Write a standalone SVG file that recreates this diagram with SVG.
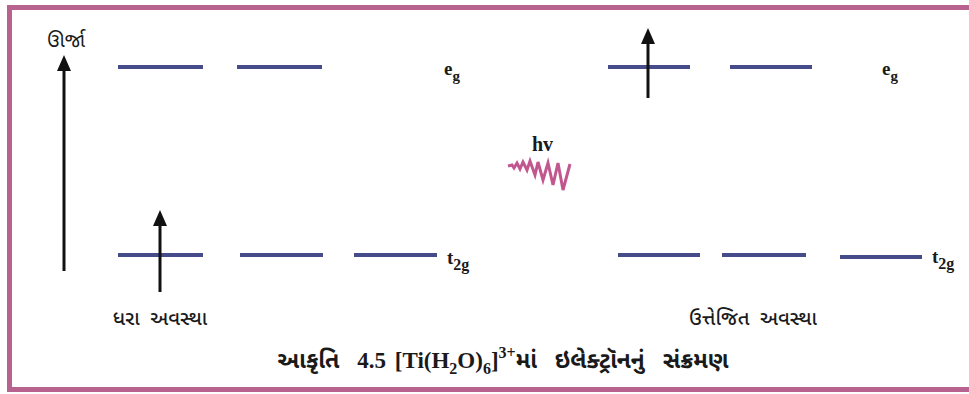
<svg xmlns="http://www.w3.org/2000/svg" width="969" height="394" viewBox="0 0 969 394">
<style>
.lvl{stroke:#464b8a;stroke-width:4;stroke-linecap:butt}
.arr{stroke:#111;stroke-width:3;fill:none}
.guj{font-family:"Noto Sans Gujarati","Noto Serif Gujarati","Noto Sans",sans-serif;fill:#1a1a1a;white-space:pre}
.sym{font-family:"Liberation Serif",serif;font-weight:bold;fill:#1a1a1a}
</style>
<defs>
<marker id="ah" markerWidth="16" markerHeight="14" refX="2" refY="7" orient="auto" markerUnits="userSpaceOnUse">
<path d="M0,0 L16,7 L0,14 Z" fill="#111"/>
</marker>
</defs>
<rect width="969" height="394" fill="#fff"/>
<g id="frame" fill="#b8638f">
<rect x="7" y="5" width="962" height="5"/>
<rect x="7" y="5" width="5" height="387"/>
<rect x="7" y="387" width="962" height="5"/>
</g>
<g id="energy-axis">
<line class="arr" x1="64" y1="271" x2="64" y2="69" marker-end="url(#ah)"/>
<text class="guj" x="66" y="47" font-size="20" text-anchor="middle">ઊર્જા</text>
</g>
<g id="ground-state">
<line class="lvl" x1="118" y1="67" x2="203" y2="67"/>
<line class="lvl" x1="237" y1="67" x2="322" y2="67"/>
<text class="sym" x="444" y="75" font-size="19">e<tspan font-size="15" dy="6">g</tspan></text>
<line class="lvl" x1="118" y1="255" x2="203" y2="255"/>
<line class="lvl" x1="240" y1="255" x2="323" y2="255"/>
<line class="lvl" x1="354" y1="255" x2="437" y2="255"/>
<text class="sym" x="447" y="264" font-size="19" font-weight="normal">t<tspan font-size="16" dy="6">2g</tspan></text>
<line class="arr" x1="160" y1="292" x2="160" y2="224" marker-end="url(#ah)"/>
<text class="guj" x="160" y="325" font-size="20" text-anchor="middle" font-weight="500">ધરા  અવસ્થા</text>
</g>
<g id="excited-state">
<line class="lvl" x1="608" y1="67" x2="690" y2="67"/>
<line class="lvl" x1="730" y1="67" x2="812" y2="67"/>
<text class="sym" x="882" y="75" font-size="19" font-weight="normal">e<tspan font-size="15" dy="6">g</tspan></text>
<line class="arr" x1="648" y1="98" x2="648" y2="42" marker-end="url(#ah)"/>
<line class="lvl" x1="618" y1="255" x2="700" y2="255"/>
<line class="lvl" x1="722" y1="255" x2="806" y2="255"/>
<line class="lvl" x1="840" y1="257" x2="922" y2="257"/>
<text class="sym" x="932" y="263" font-size="19" font-weight="normal">t<tspan font-size="16" dy="6">2g</tspan></text>
<text class="guj" x="753" y="325" font-size="20" text-anchor="middle" font-weight="500">ઉત્તેજિત  અવસ્થા</text>
</g>
<g id="photon">
<text class="sym" x="532" y="151" font-size="20">hv</text>
<polyline points="508,166 512,165 514,168 517,163 520,169 523,162 527,170 530,161 535,175 538,162 543,180 548,163 553,185 558,163 563,190 570,164" fill="none" stroke="#c2578f" stroke-width="3" stroke-linejoin="miter"/>
</g>
<g id="caption">
<text x="503" y="368" font-size="23" text-anchor="middle" font-weight="bold" word-spacing="3"><tspan class="guj">આકૃતિ  </tspan><tspan class="sym">4.5 [Ti(H<tspan font-size="16" dy="6">2</tspan><tspan dy="-6">O)</tspan><tspan font-size="16" dy="6">6</tspan><tspan dy="-6">]</tspan><tspan font-size="16" dy="-10">3+</tspan></tspan><tspan class="guj" dy="10">માં  ઇલેક્ટ્રૉનનું  સંક્રમણ</tspan></text>
</g>
</svg>
